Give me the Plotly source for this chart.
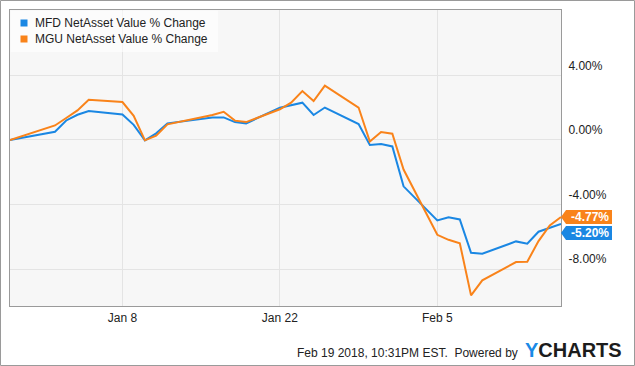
import plotly.graph_objects as go

# ---------------- data ----------------
dates = ["2017-12-29", "2018-01-02", "2018-01-03", "2018-01-04", "2018-01-05",
         "2018-01-08", "2018-01-09", "2018-01-10", "2018-01-11", "2018-01-12",
         "2018-01-16", "2018-01-17", "2018-01-18", "2018-01-19", "2018-01-22",
         "2018-01-23", "2018-01-24", "2018-01-25", "2018-01-26", "2018-01-29",
         "2018-01-30", "2018-01-31", "2018-02-01", "2018-02-02", "2018-02-05",
         "2018-02-06", "2018-02-07", "2018-02-08", "2018-02-09", "2018-02-12",
         "2018-02-13", "2018-02-14", "2018-02-15", "2018-02-16"]
mfd = [0.00, 0.51, 1.21, 1.56, 1.79, 1.58, 0.94, -0.02, 0.41, 1.03,
       1.40, 1.40, 1.11, 1.03, 2.00, 2.17, 2.31, 1.55, 2.01, 0.99,
       -0.31, -0.25, -0.40, -2.87, -4.98, -4.78, -4.92, -6.98, -7.04, -6.28,
       -6.42, -5.68, -5.44, -5.20]
mgu = [0.00, 0.90, 1.36, 1.83, 2.49, 2.35, 1.50, -0.02, 0.27, 0.97,
       1.55, 1.75, 1.20, 1.11, 1.90, 2.31, 3.03, 2.41, 3.37, 2.01,
       -0.10, 0.49, 0.39, -1.83, -5.87, -6.18, -6.39, -9.62, -8.69, -7.56,
       -7.54, -6.26, -5.29, -4.77]
series_names = ["MFD NetAsset Value % Change", "MGU NetAsset Value % Change"]
series_colors = ["#1a87e3", "#f9831a"]
y_ticks = [-8, -4, 0, 4]
x_ticks = ["2018-01-08", "2018-01-22", "2018-02-05"]
x_tick_text = ["Jan 8", "Jan 22", "Feb 5"]
footer_text = "Feb 19 2018, 10:31PM EST.  Powered by"

# ---------------- layout geometry ----------------
W, H = 635, 366
ML, MR, MT, MB = 10, 74, 10, 60
PW, PH = W - ML - MR, H - MT - MB
Y_RANGE = [-10.28, 8.05]
FONT = "Liberation Sans, Arial, sans-serif"


def px_x(px):
    return (px - ML) / PW


def px_y(py):
    return (H - MB - py) / PH


def val_to_py(v):
    return MT + (Y_RANGE[1] - v) / (Y_RANGE[1] - Y_RANGE[0]) * PH


fig = go.Figure()
for name, vals, col in zip(series_names, [mfd, mgu], series_colors):
    fig.add_trace(go.Scatter(x=dates, y=vals, mode="lines", name=name,
                             line=dict(color=col, width=2), showlegend=False,
                             hoverinfo="x+y"))

shapes = []
annotations = []

# outer frame
shapes.append(dict(type="rect", xref="paper", yref="paper",
                   x0=px_x(0.5), x1=px_x(W - 0.5), y0=px_y(H - 0.5), y1=px_y(0.5),
                   line=dict(color="#9a9a9a", width=1), fillcolor="rgba(0,0,0,0)",
                   layer="above"))

# legend box
shapes.append(dict(type="rect", xref="paper", yref="paper",
                   x0=px_x(ML + 0.5), x1=px_x(218), y0=px_y(52), y1=px_y(MT + 0.5),
                   line=dict(width=0), fillcolor="rgba(255,255,255,0.6)", layer="above"))
for i, (name, col) in enumerate(zip(series_names, series_colors)):
    cy = 23 + 16 * i
    shapes.append(dict(type="rect", xref="paper", yref="paper",
                       x0=px_x(20.5), x1=px_x(27.5), y0=px_y(cy + 3.5), y1=px_y(cy - 3.5),
                       line=dict(width=0), fillcolor=col, layer="above"))
    annotations.append(dict(xref="paper", yref="paper", x=px_x(32.5), y=px_y(cy),
                            xanchor="left", yanchor="middle", text=name, showarrow=False,
                            font=dict(family=FONT, size=12, color="#222222")))

# end-value flags
last_vals = [mfd[-1], mgu[-1]]
order = sorted(range(2), key=lambda k: -last_vals[k])
prev = None
centers = {}
for k in order:
    cy = val_to_py(last_vals[k])
    if prev is not None and cy < prev + 16:
        cy = prev + 16
    centers[k] = cy
    prev = cy
for k in range(2):
    cy = centers[k]
    col = series_colors[k]
    x_tip, x_base, x_end = ML + PW, ML + PW + 5, ML + PW + 51
    path = "M {} {} L {} {} L {} {} L {} {} L {} {} Z".format(
        px_x(x_tip), px_y(cy), px_x(x_base), px_y(cy - 7), px_x(x_end), px_y(cy - 7),
        px_x(x_end), px_y(cy + 7), px_x(x_base), px_y(cy + 7))
    shapes.append(dict(type="path", xref="paper", yref="paper", path=path,
                       fillcolor=col, line=dict(width=0), layer="above"))
    annotations.append(dict(xref="paper", yref="paper", x=px_x((x_base + x_end) / 2 + 1),
                            y=px_y(cy), xanchor="center", yanchor="middle",
                            text="<b>{:.2f}%</b>".format(last_vals[k]), showarrow=False,
                            font=dict(family=FONT, size=12, color="white")))

# footer
annotations.append(dict(xref="paper", yref="paper", x=px_x(519.5), y=px_y(352.5),
                        xanchor="right", yanchor="middle", text=footer_text, showarrow=False,
                        font=dict(family=FONT, size=12, color="#222222")))
annotations.append(dict(xref="paper", yref="paper", x=px_x(624), y=px_y(350),
                        xanchor="right", yanchor="middle",
                        text="<b><span style='color:#1a8ae6'>Y</span>CHARTS</b>",
                        showarrow=False,
                        font=dict(family=FONT, size=20, color="#1c1c1c")))

fig.update_layout(
    width=W, height=H,
    margin=dict(l=ML, r=MR, t=MT, b=MB),
    paper_bgcolor="white", plot_bgcolor="#f7f7f7",
    showlegend=False,
    shapes=shapes, annotations=annotations,
    font=dict(family=FONT, size=12, color="#222222"),
    xaxis=dict(type="date", range=[dates[0], dates[-1]], tickvals=x_ticks,
               ticktext=x_tick_text, showgrid=True, gridcolor="#e4e4e4", gridwidth=1,
               showline=True, linecolor="#9a9a9a", linewidth=1, mirror=True,
               zeroline=False, ticks="", ticklabelstandoff=1,
               tickfont=dict(size=12, color="#222222")),
    yaxis=dict(range=Y_RANGE, side="right", tickvals=y_ticks,
               ticktext=["{:.2f}%".format(v) for v in y_ticks],
               showgrid=True, gridcolor="#e4e4e4", gridwidth=1, zeroline=False,
               showline=True, linecolor="#9a9a9a", linewidth=1, mirror=True,
               ticks="", ticklabelshift=-10, ticklabelstandoff=4,
               tickfont=dict(size=12, color="#222222")),
)

fig.write_html("out.html")
